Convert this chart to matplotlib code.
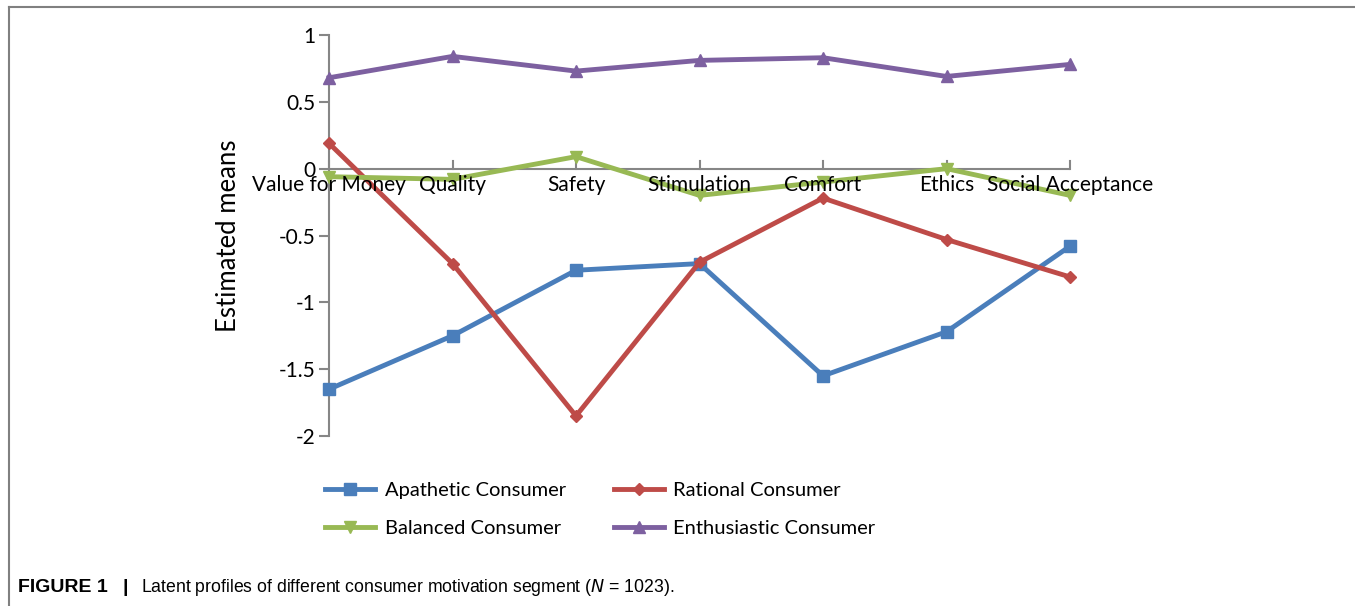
import matplotlib.pyplot as plt
from matplotlib.lines import Line2D

categories = ["Value for Money", "Quality", "Safety", "Stimulation",
              "Comfort", "Ethics", "Social Acceptance"]
apathetic = [-1.65, -1.25, -0.76, -0.71, -1.55, -1.22, -0.58]
rational = [0.19, -0.71, -1.85, -0.70, -0.22, -0.53, -0.81]
balanced = [-0.06, -0.08, 0.09, -0.20, -0.10, 0.00, -0.20]
enthusiastic = [0.68, 0.84, 0.73, 0.81, 0.83, 0.69, 0.78]
yticks = [1, 0.5, 0, -0.5, -1, -1.5, -2]
ytick_labels = ["1", "0.5", "0", "-0.5", "-1", "-1.5", "-2"]

series = [
    ("Apathetic Consumer", apathetic, "#4a7ebb", "s", 9),
    ("Rational Consumer", rational, "#be4b48", "D", 6),
    ("Balanced Consumer", balanced, "#98b954", "v", 9),
    ("Enthusiastic Consumer", enthusiastic, "#7d60a0", "^", 9),
]

plt.rcParams["font.family"] = ["Lato", "DejaVu Sans"]

fig = plt.figure(figsize=(13.55, 6.06), dpi=100)
ax = fig.add_axes([329 / 1355, 1 - 436 / 606, (1070 - 329) / 1355, (436 - 35) / 606])

x = list(range(len(categories)))
for name, vals, color, marker, ms in series:
    ax.plot(x, vals, color=color, linewidth=3.5, marker=marker,
            markersize=ms, clip_on=False, label=name, zorder=3)

ax.set_xlim(0, len(categories) - 1)
ax.set_ylim(-2, 1)
ax.set_yticks(yticks)
ax.set_yticklabels(ytick_labels, fontsize=15)

for s in ["top", "right", "bottom"]:
    ax.spines[s].set_visible(False)
ax.spines["left"].set_color("#868686")
ax.spines["left"].set_linewidth(1.5)
ax.tick_params(axis="y", length=7, width=1.5, color="#868686", pad=3)

# category axis drawn at y = 0 with ticks pointing up
ax.axhline(0, color="#868686", linewidth=1.5, zorder=2)
ax.set_xticks([])
for i, cat in enumerate(categories):
    ax.plot([i, i], [0, 0.055], color="#868686", linewidth=1.5, zorder=2, clip_on=False)
    ax.text(i, -0.05, cat, ha="center", va="top", fontsize=15, zorder=4)

ax.set_ylabel("Estimated means", fontsize=18.5, labelpad=27)

# legend filled row by row: Apathetic, Rational / Balanced, Enthusiastic
order = [0, 2, 1, 3]
handles = [Line2D([], [], color=series[k][2], linewidth=3.5,
                  marker=series[k][3], markersize=series[k][4]) for k in order]
fig.legend(handles, [series[k][0] for k in order], ncol=2, frameon=False,
           loc="upper left", bbox_to_anchor=(307 / 1355, 1 - 464 / 606),
           fontsize=14.5, handlelength=2.5, columnspacing=2.4,
           labelspacing=1.05, handletextpad=0.45)

# page frame (top and left edges)
fig.add_artist(Line2D([9 / 1355, 1], [1 - 7 / 606, 1 - 7 / 606],
                      color="#808080", linewidth=1.5))
fig.add_artist(Line2D([9 / 1355, 9 / 1355], [0, 1 - 7 / 606],
                      color="#808080", linewidth=1.5))

cap_y = 1 - 587 / 606
fig.text(18 / 1355, cap_y, "FIGURE 1", fontsize=14, fontweight="bold",
         family="Liberation Sans", va="center")
fig.text(122 / 1355, cap_y, "|", fontsize=14, fontweight="bold",
         family="Liberation Sans", va="center")
fig.text(141 / 1355, cap_y,
         "Latent profiles of different consumer motivation segment ($N$ = 1023).",
         fontsize=12.7, family="Liberation Sans", va="center")

fig.savefig("out.png", dpi=100)
